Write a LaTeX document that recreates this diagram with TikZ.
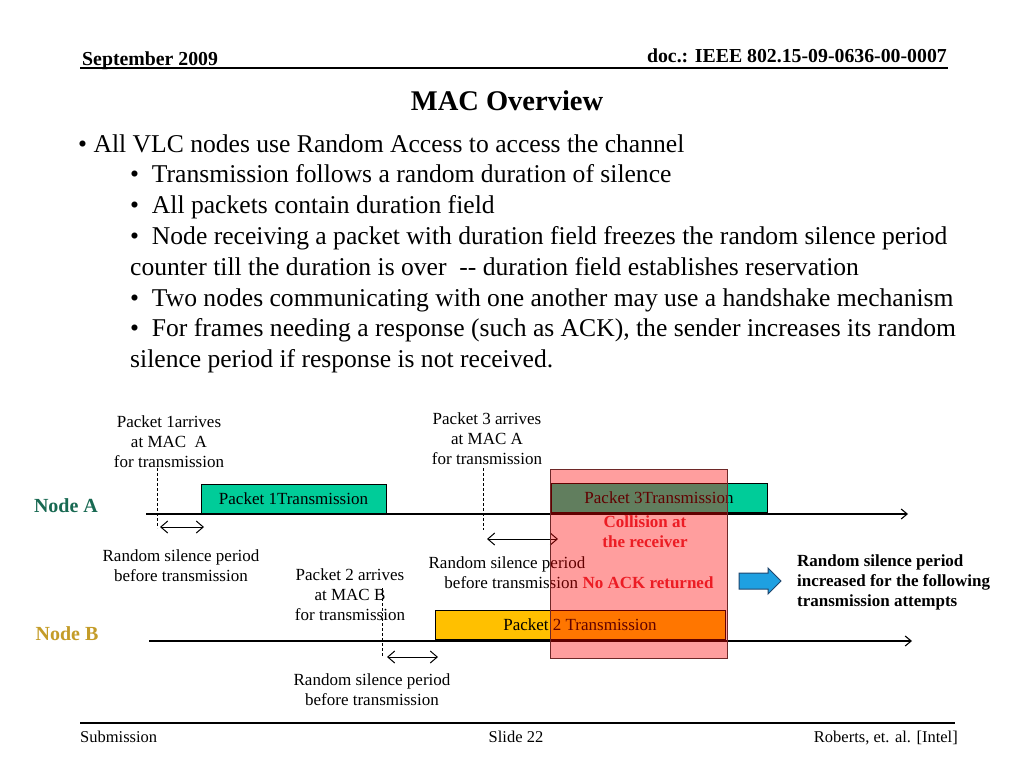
\documentclass[tikz,border=0pt]{standalone}
\usepackage{fontspec}
\setmainfont{Liberation Serif}
\usetikzlibrary{arrows.meta}
\definecolor{pktgreen}{RGB}{0,204,153}
\definecolor{pktyellow}{RGB}{255,192,0}
\definecolor{nodeAcol}{RGB}{24,105,82}
\definecolor{nodeBcol}{RGB}{196,156,40}
\definecolor{alertred}{RGB}{236,28,36}
\definecolor{overlayedge}{RGB}{110,40,40}
\definecolor{arrowblue}{RGB}{30,160,225}
\definecolor{arrowedge}{RGB}{30,70,110}
\begin{document}
\begin{tikzpicture}[x=1pt,y=-1pt,
  hdr/.style={inner sep=0pt, font=\fontsize{19.8}{22}\selectfont\bfseries},
  foot/.style={inner sep=0pt, font=\fontsize{16.5}{20}\selectfont},
  body/.style={anchor=base west, inner sep=0pt, font=\fontsize{25.6}{30}\selectfont},
  lbl/.style={align=center, inner sep=0pt, font=\fontsize{17}{20}\selectfont},
  pkt/.style={draw=black, line width=1pt, inner sep=0pt, font=\fontsize{17}{20}\selectfont},
  nodename/.style={inner sep=0pt, font=\fontsize{20}{22}\selectfont\bfseries},
  alert/.style={align=center, inner sep=0pt, text=alertred, font=\fontsize{17}{20}\selectfont\bfseries},
  timeline/.style={line width=1.1pt, -{Straight Barb[length=6pt,width=10pt]}},
  silence/.style={line width=1pt, {Straight Barb[length=7pt,width=12pt]}-{Straight Barb[length=7pt,width=12pt]}},
  arrival/.style={line width=0.8pt, dash pattern=on 3pt off 2pt},
  rule/.style={line width=1.5pt}
]
\useasboundingbox (0,0) rectangle (1024,768);
\fill[white] (0,0) rectangle (1024,768);

% header
\node[hdr, anchor=base west] (date) at (82,65) {September 2009};
\node[hdr, anchor=base east] (doc) at (947,63) {doc.: IEEE 802.15-09-0636-00-0007};
\coordinate (hl) at (80,68); \coordinate (hr) at (948,68);
\draw[rule] (hl) -- (hr);
\node[inner sep=0pt, font=\fontsize{28.5}{30}\selectfont\bfseries] (title) at (507,101) {MAC Overview};

% bullets
\node[body] (b1) at (78,152) {\textbullet\ All VLC nodes use Random Access to access the channel};
\node[body] (b2) at (130,182) {\textbullet\ \ Transmission follows a random duration of silence};
\node[body] (b3) at (130,213) {\textbullet\ \ All packets contain duration field};
\node[body] (b4) at (130,244) {\textbullet\ \ Node receiving a packet with duration field freezes the random silence period};
\node[body] (b4b) at (130,275) {counter till the duration is over\ \ -{}- duration field establishes reservation};
\node[body] (b5) at (130,306) {\textbullet\ \ Two nodes communicating with one another may use a handshake mechanism};
\node[body] (b6) at (130,336) {\textbullet\ \ For frames needing a response (such as ACK), the sender increases its random};
\node[body] (b6b) at (130,367) {silence period if response is not received.};

% node names
\node[nodename, text=nodeAcol] (nA) at (66,506) {Node A};
\node[nodename, text=nodeBcol] (nB) at (67,634) {Node B};

% timelines
\coordinate (a0) at (146,514); \coordinate (a1) at (908,514);
\coordinate (b0) at (149,641); \coordinate (b1e) at (912,641);
\draw[timeline] (a0) -- (a1);
\draw[timeline] (b0) -- (b1e);

% packets
\node[pkt, fill=pktgreen, minimum width=185pt, minimum height=29pt] (p1) at (293.5,498.5) {Packet 1Transmission};
\node[pkt, fill=pktgreen, minimum width=216pt, minimum height=29pt] (p3) at (659,497.5) {Packet 3Transmission};
\node[pkt, fill=pktyellow, minimum width=290pt, minimum height=29pt] (p2) at (580,624.5) {Packet 2 Transmission};

% arrival labels and markers
\node[lbl] (arr1) at (169,442) {Packet 1arrives\\ at MAC\ \ A\\for transmission};
\coordinate (d1t) at (157,468); \coordinate (d1b) at (157,528);
\draw[arrival] (d1t) -- (d1b);
\coordinate (s1a) at (160,527); \coordinate (s1b) at (204,527);
\draw[silence] (s1a) -- (s1b);
\node[lbl] (rs1) at (181,566) {Random silence period\\before transmission};

\node[lbl] (arr3) at (487,439) {Packet 3 arrives\\at MAC A\\for transmission};
\coordinate (d3t) at (483,468); \coordinate (d3b) at (483,530);
\draw[arrival] (d3t) -- (d3b);
\coordinate (s3a) at (487,539); \coordinate (s3b) at (558,539);
\draw[silence] (s3a) -- (s3b);
\node[lbl] (rs3) at (507,573) {Random silence period\\\ \ before transmission};

\node[lbl] (arr2) at (350,595) {Packet 2 arrives\\at MAC B\\for transmission};
\coordinate (d2t) at (382,588); \coordinate (d2b) at (382,657);
\draw[arrival] (d2t) -- (d2b);
\coordinate (s2a) at (387,657); \coordinate (s2b) at (438,657);
\draw[silence] (s2a) -- (s2b);
\node[lbl] (rs2) at (372,690) {Random silence period\\before transmission};

% collision overlay
\node[draw=overlayedge, line width=1pt, fill=red, fill opacity=0.38, minimum width=177pt, minimum height=189pt, inner sep=0pt] (coll) at (638.5,563.5) {};
\node[alert] (colltxt) at (645,532) {Collision at\\the receiver};
\node[alert] (noack) at (648,583) {No ACK returned};

% result
\draw[fill=arrowblue, draw=arrowedge, line width=1pt] (739,573) -- (768,573) -- (768,568) -- (781,581) -- (768,594) -- (768,589) -- (739,589) -- cycle;
\node[lbl, align=left, anchor=west, font=\fontsize{17}{20}\selectfont\bfseries] (result) at (797,582) {Random silence period\\increased for the following\\transmission attempts};

% footer
\coordinate (fl) at (80,723); \coordinate (fr) at (955,723);
\draw[line width=1.2pt] (fl) -- (fr);
\node[foot, anchor=base west] (sub) at (80,742) {Submission};
\node[foot, anchor=base] (slide) at (516,742) {Slide 22};
\node[foot, anchor=base east] (auth) at (958,742) {Roberts, et. al. [Intel]};
\end{tikzpicture}
\end{document}
